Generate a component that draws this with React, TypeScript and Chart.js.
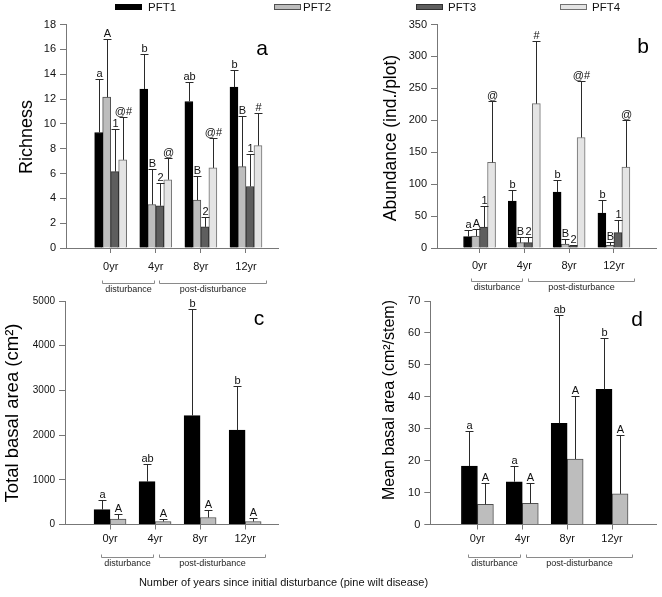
import React, { useEffect, useRef } from 'react';
import { Chart, registerables } from 'chart.js';

Chart.register(...registerables);

const FONT = '"Liberation Sans", Arial, Helvetica, sans-serif';

// ---- categories / series ----
const years = ['0yr', '4yr', '8yr', '12yr'];
const pftNames = ['PFT1', 'PFT2', 'PFT3', 'PFT4'];
const pftFill = ['#000000', '#bdbdbd', '#5e5e5e', '#e4e4e4'];
const pftBorder = ['#000000', '#505050', '#303030', '#707070'];

// (a) Richness
const richPFT1 = [9.3, 12.8, 11.8, 12.95];
const richPFT1Err = [4.3, 2.8, 1.55, 1.4];
const richPFT2 = [12.15, 3.5, 3.86, 6.55];
const richPFT2Err = [4.7, 2.85, 1.95, 4.05];
const richPFT3 = [6.15, 3.4, 1.7, 4.95];
const richPFT3Err = [3.45, 1.85, 0.8, 2.6];
const richPFT4 = [7.1, 5.5, 6.45, 8.25];
const richPFT4Err = [3.45, 1.75, 2.4, 2.6];
const richLet1 = ['a', 'b', 'ab', 'b'];
const richLet2 = ['A', 'B', 'B', 'B'];
const richLet3 = ['1', '2', '2', '1'];
const richLet4 = ['@#', '@', '@#', '#'];

// (b) Abundance
const abPFT1 = [17.7, 73.4, 87.5, 54.7];
const abPFT1Err = [10.9, 17.2, 18.8, 20.3];
const abPFT2 = [18.7, 8.3, 6.3, 4.2];
const abPFT2Err = [11.0, 9.4, 8.3, 4.7];
const abPFT3 = [32.8, 8.3, 3.1, 24.0];
const abPFT3Err = [32.8, 9.4, 1.5, 20.3];
const abPFT4 = [134, 226, 173, 126.6];
const abPFT4Err = [95.7, 98.5, 88, 73.4];
const abLet1 = ['a', 'b', 'b', 'b'];
const abLet2 = ['A', 'B', 'B', 'B'];
const abLet3 = ['1', '2', '2', '1'];
const abLet4 = ['@', '#', '@#', '@'];

// (c) Total basal area
const tbPFT1 = [334, 958, 2437, 2110];
const tbPFT1Err = [216, 402, 2385, 995];
const tbPFT2 = [119, 67, 156, 67];
const tbPFT2Err = [111, 52, 178, 82];
const tbLet1 = ['a', 'ab', 'b', 'b'];
const tbLet2 = ['A', 'A', 'A', 'A'];

// (d) Mean basal area
const mbPFT1 = [18.3, 13.4, 31.7, 42.3];
const mbPFT1Err = [10.85, 5.0, 33.9, 16.0];
const mbPFT2 = [6.3, 6.6, 20.5, 9.6];
const mbPFT2Err = [6.8, 6.5, 19.8, 18.3];
const mbLet1 = ['a', 'a', 'ab', 'b'];
const mbLet2 = ['A', 'A', 'A', 'A'];

// bracket groups under the x axis (in category units)
const bracketLabels = ['disturbance', 'post-disturbance'];
const bracketFrom = [-0.2, 1.08];
const bracketTo = [0.95, 3.45];

const panels: any[] = [
  {
    key: 'a', left: 0, top: 0, w: 331, h: 300,
    area: { left: 66, top: 24.5, right: 278, bottom: 248 },
    xMin: -0.99, xMax: 3.71, yMax: 18, yStep: 2, tickFont: 11, xPad: 7,
    barThickness: 8, bracketOffset: 35,
    title: 'Richness', titleSize: 18, titleX: 27, titleY: 137,
    letter: 'a', letterX: 262, letterY: 49,
    series: [
      { values: richPFT1, errors: richPFT1Err, letters: richLet1 },
      { values: richPFT2, errors: richPFT2Err, letters: richLet2 },
      { values: richPFT3, errors: richPFT3Err, letters: richLet3 },
      { values: richPFT4, errors: richPFT4Err, letters: richLet4 },
    ],
  },
  {
    key: 'b', left: 331, top: 0, w: 331, h: 300,
    area: { left: 106, top: 24.5, right: 325, bottom: 248 },
    xMin: -0.95, xMax: 3.94, yMax: 350, yStep: 50, tickFont: 11, xPad: 6,
    barThickness: 8, bracketOffset: 33,
    title: 'Abundance (ind./plot)', titleSize: 17.5, titleX: 60, titleY: 138,
    letter: 'b', letterX: 312, letterY: 47,
    series: [
      { values: abPFT1, errors: abPFT1Err, letters: abLet1 },
      { values: abPFT2, errors: abPFT2Err, letters: abLet2 },
      { values: abPFT3, errors: abPFT3Err, letters: abLet3 },
      { values: abPFT4, errors: abPFT4Err, letters: abLet4 },
    ],
  },
  {
    key: 'c', left: 0, top: 290, w: 331, h: 307,
    area: { left: 65, top: 11, right: 278, bottom: 234.5 },
    xMin: -1.0, xMax: 3.73, yMax: 5000, yStep: 1000, tickFont: 10, xPad: 2.5,
    barThickness: 16, bracketOffset: 32,
    title: 'Total basal area (cm\u00B2)', titleSize: 18.5, titleX: 13, titleY: 123,
    letter: 'c', letterX: 259, letterY: 29,
    series: [
      { values: tbPFT1, errors: tbPFT1Err, letters: tbLet1 },
      { values: tbPFT2, errors: tbPFT2Err, letters: tbLet2 },
    ],
  },
  {
    key: 'd', left: 331, top: 290, w: 331, h: 307,
    area: { left: 99.3, top: 11, right: 325, bottom: 234.5 },
    xMin: -1.05, xMax: 3.98, yMax: 70, yStep: 10, tickFont: 11, xPad: 3,
    barThickness: 16, bracketOffset: 32,
    title: 'Mean basal area (cm\u00B2/stem)', titleSize: 16, titleX: 59, titleY: 110,
    letter: 'd', letterX: 306, letterY: 30,
    series: [
      { values: mbPFT1, errors: mbPFT1Err, letters: mbLet1 },
      { values: mbPFT2, errors: mbPFT2Err, letters: mbLet2 },
    ],
  },
];

function Panel({ cfg }: { cfg: any }) {
  const ref = useRef<HTMLCanvasElement>(null);
  useEffect(() => {
    const canvas = ref.current as HTMLCanvasElement;
    const { area, w, h } = cfg;
    const decor = {
      id: 'decor' + cfg.key,
      afterDatasetsDraw(chart: any) {
        const ctx = chart.ctx;
        const ys = chart.scales.y;
        ctx.save();
        cfg.series.forEach((s: any, di: number) => {
          const meta = chart.getDatasetMeta(di);
          meta.data.forEach((bar: any, j: number) => {
            const v = s.values[j];
            const e = s.errors[j];
            const px = Math.round(bar.x) + 0.5;
            const yb = ys.getPixelForValue(v);
            const yt = Math.round(ys.getPixelForValue(v + e)) + 0.5;
            ctx.strokeStyle = '#2a2a2a';
            ctx.lineWidth = 1;
            ctx.beginPath();
            ctx.moveTo(px, yb);
            ctx.lineTo(px, yt);
            ctx.moveTo(px - 4, yt);
            ctx.lineTo(px + 4, yt);
            ctx.stroke();
            ctx.fillStyle = '#111';
            ctx.font = `11px ${FONT}`;
            ctx.textAlign = 'center';
            ctx.textBaseline = 'alphabetic';
            ctx.fillText(s.letters[j], px, yt - 2.5);
          });
        });
        ctx.restore();
      },
      afterDraw(chart: any) {
        const ctx = chart.ctx;
        const xs = chart.scales.x;
        ctx.save();
        ctx.translate(cfg.titleX, cfg.titleY);
        ctx.rotate(-Math.PI / 2);
        ctx.fillStyle = '#000';
        ctx.font = `${cfg.titleSize}px ${FONT}`;
        ctx.textAlign = 'center';
        ctx.textBaseline = 'middle';
        ctx.fillText(cfg.title, 0, 0);
        ctx.restore();
        ctx.save();
        ctx.fillStyle = '#000';
        ctx.font = `21px ${FONT}`;
        ctx.textAlign = 'center';
        ctx.textBaseline = 'middle';
        ctx.fillText(cfg.letter, cfg.letterX, cfg.letterY);
        ctx.restore();
        ctx.save();
        const yb = Math.round(area.bottom + cfg.bracketOffset) + 0.5;
        bracketLabels.forEach((lab, i) => {
          const x1 = Math.round(xs.getPixelForValue(bracketFrom[i])) + 0.5;
          const x2 = Math.round(xs.getPixelForValue(bracketTo[i])) + 0.5;
          ctx.strokeStyle = '#8a8a8a';
          ctx.lineWidth = 1;
          ctx.beginPath();
          ctx.moveTo(x1, yb - 3);
          ctx.lineTo(x1, yb);
          ctx.lineTo(x2, yb);
          ctx.lineTo(x2, yb - 3);
          ctx.stroke();
          ctx.fillStyle = '#222';
          ctx.font = `9px ${FONT}`;
          ctx.textAlign = 'center';
          ctx.textBaseline = 'middle';
          ctx.fillText(lab, (x1 + x2) / 2, yb + 6);
        });
        ctx.restore();
      },
    };
    const chart = new Chart(canvas, {
      type: 'bar',
      data: {
        datasets: cfg.series.map((s: any, i: number) => ({
          label: pftNames[i],
          data: s.values.map((v: number, j: number) => ({ x: j, y: v })),
          backgroundColor: pftFill[i],
          borderColor: pftBorder[i],
          borderWidth: 1,
          barThickness: cfg.barThickness,
        })),
      },
      options: {
        responsive: false,
        animation: false,
        devicePixelRatio: 1,
        layout: { padding: { left: 0, top: area.top, right: w - area.right, bottom: 0 } },
        plugins: { legend: { display: false }, tooltip: { enabled: false } },
        scales: {
          x: {
            type: 'linear',
            min: cfg.xMin,
            max: cfg.xMax,
            offset: false,
            grid: { display: true, offset: false, drawOnChartArea: false, drawTicks: true, tickLength: 5, color: '#777' },
            border: { display: true, color: '#777', width: 1 },
            ticks: {
              autoSkip: false,
              maxRotation: 0,
              padding: cfg.xPad,
              color: '#111',
              font: { size: 11, family: FONT },
              callback: (v: any) => {
                const i = Math.round(Number(v));
                return Math.abs(Number(v) - i) < 1e-6 && years[i] !== undefined ? years[i] : '';
              },
            },
            afterBuildTicks: (s: any) => {
              s.ticks = years.map((_, i) => ({ value: i }));
            },
            afterFit: (s: any) => {
              s.height = h - area.bottom;
            },
          },
          y: {
            type: 'linear',
            min: 0,
            max: cfg.yMax,
            grid: { display: true, offset: false, drawOnChartArea: false, drawTicks: true, tickLength: 6, color: '#777' },
            border: { display: true, color: '#777', width: 1 },
            ticks: {
              stepSize: cfg.yStep,
              padding: 4,
              color: '#111',
              font: { size: cfg.tickFont, family: FONT },
              callback: (v: any) => String(v),
            },
            afterFit: (s: any) => {
              s.width = area.left;
            },
          },
        },
      } as any,
      plugins: [decor],
    });
    return () => chart.destroy();
  }, [cfg]);
  return (
    <canvas
      ref={ref}
      width={cfg.w}
      height={cfg.h}
      style={{ position: 'absolute', left: cfg.left, top: cfg.top, width: cfg.w, height: cfg.h }}
    />
  );
}

const legendBoxX = [115, 274, 416, 560];
const legendTextX = [148, 303, 448, 592];

export default function App() {
  return (
    <div
      style={{
        position: 'fixed',
        left: 0,
        top: 0,
        width: 662,
        height: 597,
        background: '#ffffff',
        overflow: 'hidden',
        fontFamily: FONT,
      }}
    >
      {panels.map((p) => (
        <Panel key={p.key} cfg={p} />
      ))}
      {pftNames.map((name, i) => (
        <React.Fragment key={name}>
          <div
            style={{
              position: 'absolute',
              left: legendBoxX[i],
              top: 4,
              width: 27,
              height: 6,
              boxSizing: 'border-box',
              background: pftFill[i],
              border: `1px solid ${pftBorder[i]}`,
            }}
          />
          <div
            style={{
              position: 'absolute',
              left: legendTextX[i],
              top: 0,
              fontSize: 11.5,
              lineHeight: '14px',
              color: '#111',
              whiteSpace: 'nowrap',
            }}
          >
            {name}
          </div>
        </React.Fragment>
      ))}
      <div
        style={{
          position: 'absolute',
          left: 0,
          width: 567,
          top: 575,
          textAlign: 'center',
          fontSize: 11,
          lineHeight: '15px',
          color: '#111',
          whiteSpace: 'nowrap',
        }}
      >
        Number of years since initial disturbance (pine wilt disease)
      </div>
    </div>
  );
}
